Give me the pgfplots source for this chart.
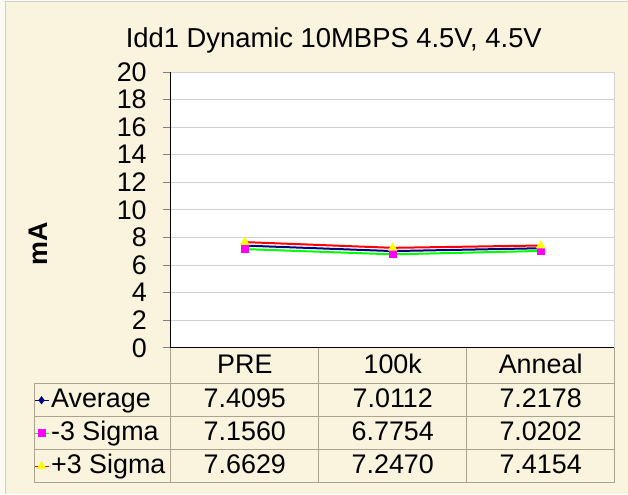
\documentclass[border=0pt]{standalone}
\usepackage{pgfplots}
\pgfplotsset{compat=1.18}
\usepackage{fontspec}
\setmainfont{Liberation Sans}

\definecolor{bgcream}{RGB}{250,243,222}
\definecolor{bgedge}{RGB}{253,250,242}
\definecolor{gridgray}{RGB}{208,208,208}
\definecolor{tabline}{RGB}{172,162,142}
\definecolor{avgnavy}{RGB}{0,0,128}
\definecolor{lowgreen}{RGB}{0,255,0}
\definecolor{lowmag}{RGB}{255,0,255}
\definecolor{hired}{RGB}{255,0,0}
\definecolor{hiyellow}{RGB}{255,255,0}

\newcommand{\chartfont}{\fontsize{27}{31}\selectfont}

\begin{document}
\begin{tikzpicture}
% chart area
\fill[bgedge] (-171bp,-146bp) rectangle (457bp,348bp);
\fill[bgcream] (-165.5bp,-146bp) rectangle (457bp,346.5bp);
\draw[gridgray, line width=0.8bp] (-165.5bp,-146bp) -- (-165.5bp,346.5bp) -- (457bp,346.5bp);

\begin{axis}[
  at={(0,0)}, anchor=south west,
  scale only axis,
  width=444bp, height=276bp,
  xmin=0, xmax=3,
  ymin=0, ymax=20,
  ytick={0,2,...,20},
  xtick={0.5,1.5,2.5},
  xticklabels={PRE,100k,Anneal},
  axis lines*=left,
  axis line style={black, line width=1bp, -},
  axis background/.style={fill=white},
  ymajorgrids,
  grid style={draw=gridgray, line width=0.9bp},
  tick align=outside,
  major tick length=8bp,
  ytick style={draw=gray, line width=0.8bp},
  xtick style={draw=none},
  tick label style={font=\chartfont},
  /pgf/number format/assume math mode=true,
  xticklabel style={anchor=base, yshift=-18bp, inner sep=0pt},
  yticklabel style={inner sep=0pt, xshift=-16bp},
  legend style={at={(-0.3086,-0.1304)}, anchor=north west, draw=none, fill=none,
    inner sep=0pt, outer sep=0pt, row sep=0pt, column sep=2bp,
    nodes={inner sep=0pt, text height=24bp, text depth=9bp, font=\chartfont}},
  legend cell align=left,
  legend image code/.code={
    \draw[#1, line width=1.2bp] (0bp,0bp) -- (14bp,0bp);
    \path[#1] plot[only marks] coordinates {(7bp,0bp)};},
]
\addplot[avgnavy, line width=2bp, mark=diamond*, mark size=2.5bp,
  mark options={fill=avgnavy, draw=avgnavy}]
  coordinates {(0.5,7.4095) (1.5,7.0112) (2.5,7.2178)};
\addplot[lowgreen, line width=2bp, mark=square*, mark size=3bp,
  mark options={fill=lowmag, draw=lowmag}]
  coordinates {(0.5,7.1560) (1.5,6.7754) (2.5,7.0202)};
\addplot[hired, line width=2bp, mark=triangle*, mark size=3.5bp,
  mark options={fill=hiyellow, draw=hiyellow}]
  coordinates {(0.5,7.6629) (1.5,7.2470) (2.5,7.4154)};
\legend{Average,-3 Sigma,+3 Sigma}
\end{axis}

% plot area border (top/right) and data table grid
\draw[gridgray, line width=0.9bp] (0bp,276bp) -- (444bp,276bp) -- (444bp,0bp);
\draw[tabline, line width=0.8bp]
  (-137bp,-36bp) -- (444bp,-36bp)
  (-137bp,-69bp) -- (444bp,-69bp)
  (-137bp,-102bp) -- (444bp,-102bp)
  (-137bp,-135bp) -- (444bp,-135bp)
  (-137bp,-36bp) -- (-137bp,-135bp)
  (0bp,0bp) -- (0bp,-135bp)
  (148bp,0bp) -- (148bp,-135bp)
  (296bp,0bp) -- (296bp,-135bp)
  (444bp,0bp) -- (444bp,-135bp);

\begin{scope}[every node/.style={font=\chartfont, inner sep=0pt, anchor=base}]
\node at (74bp,-60bp) {7.4095};
\node at (222bp,-60bp) {7.0112};
\node at (370bp,-60bp) {7.2178};
\node at (74bp,-93bp) {7.1560};
\node at (222bp,-93bp) {6.7754};
\node at (370bp,-93bp) {7.0202};
\node at (74bp,-126bp) {7.6629};
\node at (222bp,-126bp) {7.2470};
\node at (370bp,-126bp) {7.4154};
\end{scope}

\node[font=\fontsize{27.5}{32}\selectfont, inner sep=0pt] at (163bp,308bp)
  {Idd1 Dynamic 10MBPS 4.5V, 4.5V};
\node[font=\chartfont\bfseries, rotate=90, inner sep=0pt] at (-133bp,104bp) {mA};
\end{tikzpicture}
\end{document}
